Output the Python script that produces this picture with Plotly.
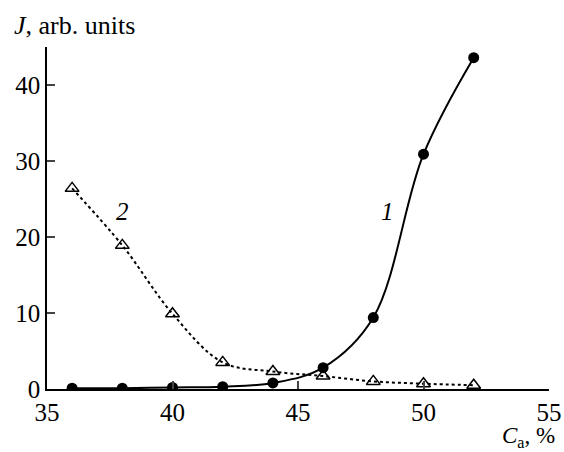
import plotly.graph_objects as go

ca = [36, 38, 40, 42, 44, 46, 48, 50, 52]
j1 = [0.1, 0.1, 0.2, 0.3, 0.8, 2.8, 9.4, 30.9, 43.6]
j2 = [26.4, 18.9, 9.9, 3.5, 2.3, 1.7, 1.0, 0.7, 0.5]

y_ticks = [0, 10, 20, 30, 40, 45]
y_ticktext = ["0", "10", "20", "30", "40", ""]
x_ticks = [35, 40, 45, 50, 55]

font = "Liberation Serif"

fig = go.Figure()
fig.add_trace(go.Scatter(
    x=ca, y=j2, mode="lines+markers",
    line=dict(color="black", width=2, dash="dot", shape="spline", smoothing=1),
    marker=dict(symbol="triangle-up-open", size=12, color="black", line=dict(width=1.5)),
    showlegend=False))
fig.add_trace(go.Scatter(
    x=ca, y=j1, mode="lines+markers",
    line=dict(color="black", width=2, shape="spline", smoothing=1),
    marker=dict(symbol="circle", size=11, color="black"),
    showlegend=False))

fig.update_layout(
    width=564, height=452,
    margin=dict(l=47, r=15, t=47, b=63),
    paper_bgcolor="white", plot_bgcolor="white",
    font=dict(family=font, size=25, color="black"),
    xaxis=dict(range=[35, 55], tickvals=x_ticks, ticks="inside", ticklen=8,
               tickwidth=1.5, showline=True, linecolor="black", linewidth=1.5,
               showgrid=False, zeroline=False, automargin=False,
               tickfont=dict(family=font, size=25, color="black")),
    yaxis=dict(range=[0, 45], tickvals=y_ticks, ticktext=y_ticktext,
               ticks="inside", ticklen=8, tickwidth=1.5, showline=True,
               linecolor="black", linewidth=1.5, showgrid=False, zeroline=False,
               automargin=False,
               tickfont=dict(family=font, size=25, color="black")),
    annotations=[
        dict(text="<i>J</i>, arb. units", xref="paper", yref="paper",
             x=-0.07, y=1.064, xanchor="left", yanchor="middle",
             showarrow=False, font=dict(family=font, size=26, color="black")),
        dict(text="<i>C</i><sub>a</sub>, %", xref="paper", yref="paper",
             x=1.016, y=-0.139, xanchor="right", yanchor="middle",
             showarrow=False, font=dict(family=font, size=23, color="black")),
        dict(text="<i>1</i>", x=48.55, y=23.3, xref="x", yref="y",
             showarrow=False, font=dict(family=font, size=25, color="black")),
        dict(text="<i>2</i>", x=38.0, y=23.3, xref="x", yref="y",
             showarrow=False, font=dict(family=font, size=25, color="black")),
    ],
)
fig.write_html("out.html", config={"displayModeBar": False},
               post_script="document.body.style.margin='0';document.body.style.overflow='hidden';")
